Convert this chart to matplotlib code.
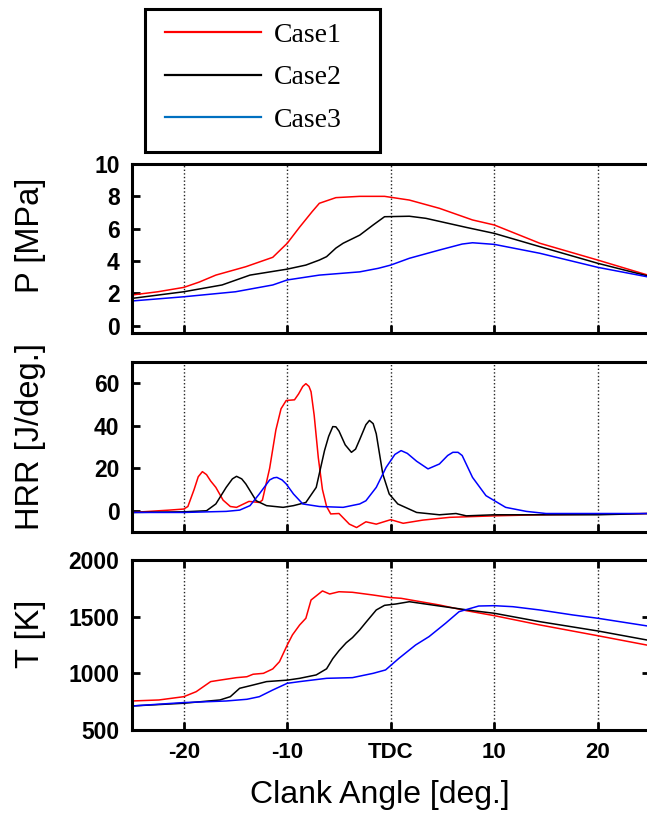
import matplotlib
matplotlib.use("Agg")
import matplotlib.pyplot as plt
from matplotlib.lines import Line2D
from matplotlib.patches import Rectangle

# crank angle ticks
angle_ticks = [-20, -10, 0, 10, 20]
angle_labels = ["-20", "-10", "TDC", "10", "20"]
case_names = ["Case1", "Case2", "Case3"]

# pressure [MPa]
p1_x = [-25, -22.5, -20, -18.5, -16.9, -14, -11.4, -10, -8.8, -7.6, -6.9, -5.3, -3, -0.6, 1.8, 4.7, 7.9, 10, 14.4, 20, 25]
p1_y = [1.9, 2.1, 2.37, 2.7, 3.13, 3.65, 4.23, 5.1, 6.1, 7.05, 7.57, 7.92, 8.0, 8.0, 7.77, 7.26, 6.54, 6.23, 5.1, 4.06, 3.1]
p2_x = [-25, -20, -16.3, -13.6, -10, -8.2, -6.9, -6.2, -5.3, -4.6, -3, -1.7, -0.6, 1.8, 3.4, 7.3, 10, 14.4, 20, 25]
p2_y = [1.69, 2.1, 2.52, 3.13, 3.5, 3.75, 4.06, 4.27, 4.8, 5.1, 5.6, 6.23, 6.74, 6.77, 6.64, 6.08, 5.71, 4.89, 3.86, 3.05]
p3_x = [-25, -20, -15, -11.4, -10, -6.9, -3, -1.2, 0, 1.8, 4.7, 6.9, 7.9, 10, 14.4, 20, 25]
p3_y = [1.53, 1.79, 2.1, 2.52, 2.83, 3.13, 3.33, 3.55, 3.75, 4.17, 4.68, 5.05, 5.13, 5.03, 4.48, 3.61, 3.0]

# heat release rate [J/deg.]
h1_x = [-25, -21.4, -20, -19.6, -19.0, -18.6, -18.2, -17.8, -17.4, -16.9, -16.2, -15.5, -14.9, -13.7, -12.7, -12.4,
        -11.7, -11.1, -10.6, -10.1, -9.3, -8.9, -8.5, -8.2, -7.9, -7.7, -7.4, -7.0, -6.6, -6.2, -5.8, -5.0, -4.0,
        -3.3, -2.4, -1.4, 0, 1.2, 3.1, 5.7, 10, 14.4, 20, 25]
h1_y = [-0.8, 0.3, 0.8, 2, 10, 16, 18.4, 17, 14, 11, 5, 2, 1.6, 4.4, 3.9, 5,
        20, 38, 48, 51.9, 52.2, 55, 58.5, 59.8, 58.5, 56, 45, 25, 10, 2, -1.5, -1.3, -6.3,
        -7.9, -5.2, -6.3, -4.2, -5.9, -4.4, -3.1, -2.4, -1.9, -1.6, -1.3]
h2_x = [-25, -20, -17.8, -16.9, -15.9, -15.3, -14.9, -14.4, -14.0, -13.0, -12.0, -10.4, -9.4, -8.2, -7.2, -6.4,
        -6.0, -5.6, -5.3, -5.0, -4.4, -3.8, -3.4, -3.0, -2.4, -2.06, -1.7, -1.4, -0.77, -0.15, 0.68, 2.5, 4.7,
        6.3, 7.3, 10, 20, 25]
h2_y = [-0.8, -0.5, 0, 3.2, 11, 15, 16.2, 15, 12.6, 4.7, 2.4, 1.6, 2.4, 3.9, 11, 28.3,
        35, 39.6, 39.5, 37.5, 31, 27.5, 29, 33.5, 40.5, 42.5, 41, 36.2, 17.3, 7.9, 3.2, -0.8, -1.9,
        -1.3, -2.4, -1.9, -1.9, -1.3]
h3_x = [-25, -20, -15.9, -14.6, -13.6, -12.7, -11.7, -11.3, -11.0, -10.5, -10.1, -9.4, -8.5, -6.9, -4.6, -3.0, -2.4,
        -1.4, -0.45, 0.4, 1.0, 1.6, 2.5, 3.6, 4.7, 5.5, 6.0, 6.5, 6.9, 7.9, 9.2, 11.1, 13.1, 15.0, 25]
h3_y = [-0.8, -0.8, -0.3, 0.3, 2.4, 7.9, 14.5, 15.5, 15.7, 14.5, 12.6, 7.9, 3.2, 2.0, 1.6, 3.2, 4.7,
        11, 20.4, 26.5, 28.3, 27, 23.3, 19.7, 22, 26, 27.5, 27.5, 26, 15.7, 7.1, 1.6, -0.3, -1.3, -1.3]

# temperature [K]
t1_x = [-25, -22.4, -20, -18.8, -17.4, -16.5, -14.9, -13.9, -13.3, -12.3, -11.4, -10.75, -10, -9.5, -8.8, -8.2,
        -7.7, -6.6, -5.9, -5.0, -3.7, -1.7, 0, 1.0, 4.7, 7.3, 10, 14.4, 20, 25]
t1_y = [756, 765, 794, 838, 927, 940, 962, 970, 992, 1000, 1039, 1103, 1250, 1339, 1427, 1486,
        1647, 1727, 1700, 1720, 1715, 1691, 1668, 1662, 1603, 1553, 1509, 1427, 1332, 1245]
t2_x = [-25, -20, -16.5, -15.5, -14.6, -13.3, -12.0, -10, -8.8, -7.2, -6.2, -5.6, -5.0, -4.3, -3.7, -3.0, -2.4,
        -1.4, -0.6, 0.5, 1.8, 4.7, 7.9, 10, 14.4, 20, 25]
t2_y = [712, 736, 765, 794, 868, 897, 927, 940, 956, 986, 1040, 1130, 1200, 1270, 1315, 1383, 1450,
        1559, 1600, 1612, 1632, 1594, 1553, 1530, 1456, 1374, 1290]
t3_x = [-25, -20, -15.9, -13.9, -12.7, -11.4, -10, -8.8, -6.2, -3.7, -1.7, -0.5, 0.8, 2.4, 3.7, 5.3, 6.6, 8.5,
        10, 11.8, 14.4, 17.6, 20, 25]
t3_y = [712, 742, 756, 771, 794, 853, 912, 927, 956, 962, 1000, 1030, 1133, 1250, 1324, 1442, 1544, 1594,
        1597, 1588, 1559, 1515, 1486, 1415]

line_colors = ["#ff0000", "#000000", "#0000ff"]
legend_colors = ["#ff0000", "#000000", "#0070c0"]

plt.rcParams['font.family'] = ['Liberation Sans', 'DejaVu Sans']

W, H = 647, 818
fig = plt.figure(figsize=(W / 100, H / 100), dpi=100)


def px_box(left, top, right, bottom):
    return [left / W, 1 - bottom / H, (right - left) / W, (bottom - top) / H]


ax_p = fig.add_axes(px_box(132, 164, 649.5, 333))
ax_h = fig.add_axes(px_box(132, 362, 649.5, 532))
ax_t = fig.add_axes(px_box(132, 560, 649.5, 730))

panels = [
    (ax_p, [(p1_x, p1_y), (p2_x, p2_y), (p3_x, p3_y)], (-0.45, 10), [0, 2, 4, 6, 8, 10]),
    (ax_h, [(h1_x, h1_y), (h2_x, h2_y), (h3_x, h3_y)], (-10, 70), [0, 20, 40, 60]),
    (ax_t, [(t1_x, t1_y), (t2_x, t2_y), (t3_x, t3_y)], (500, 2000), [500, 1000, 1500, 2000]),
]

for ax, series, ylim, yticks in panels:
    for (xs, ys), c in zip(series, line_colors):
        ax.plot(xs, ys, color=c, lw=1.1)
    ax.set_xlim(-25, 25)
    ax.set_ylim(*ylim)
    ax.set_yticks(yticks)
    ax.set_xticks(angle_ticks)
    for xv in angle_ticks:
        ax.axvline(xv, color='#222222', lw=1.0, ls=(0, (1, 1.6)), zorder=0)
    for s in ax.spines.values():
        s.set_linewidth(2.2)
    ax.tick_params(direction='in', length=5.5, width=2.0, labelsize=16.5, pad=9)
    for lab in ax.get_yticklabels():
        lab.set_fontweight('bold')

ax_p.tick_params(labelbottom=False)
ax_h.tick_params(labelbottom=False)
ax_t.tick_params(top=True, right=True)
ax_t.set_xticklabels(angle_labels, fontsize=16, fontweight='bold')
ax_t.tick_params(axis='x', pad=9)

fig.text(31 / W, 1 - 235 / H, "P [MPa]", rotation=90, ha='center', va='center', fontsize=23.5)
fig.text(31 / W, 1 - 437 / H, "HRR [J/deg.]", rotation=90, ha='center', va='center', fontsize=23.5)
fig.text(31 / W, 1 - 634 / H, "T [K]", rotation=90, ha='center', va='center', fontsize=23.5)
fig.text(380 / W, 1 - 795 / H, "Clank Angle [deg.]", ha='center', va='center', fontsize=23)

# legend without frame, plus a plain rectangular box around it
handles = [Line2D([], [], color=c, lw=1.6) for c in legend_colors]
leg = fig.legend(handles, case_names, loc='upper left', bbox_to_anchor=(157 / W, 1 - 14 / H),
                 prop={'family': 'Liberation Serif', 'size': 20}, frameon=False,
                 borderaxespad=0, borderpad=0.3, handlelength=3.45, handletextpad=0.45, labelspacing=0.62)
fig.add_artist(Rectangle((145 / W, 1 - 152 / H), 235 / W, 143 / H, transform=fig.transFigure,
                         fill=False, edgecolor='black', lw=2.2))

fig.savefig("out.png", dpi=100)
